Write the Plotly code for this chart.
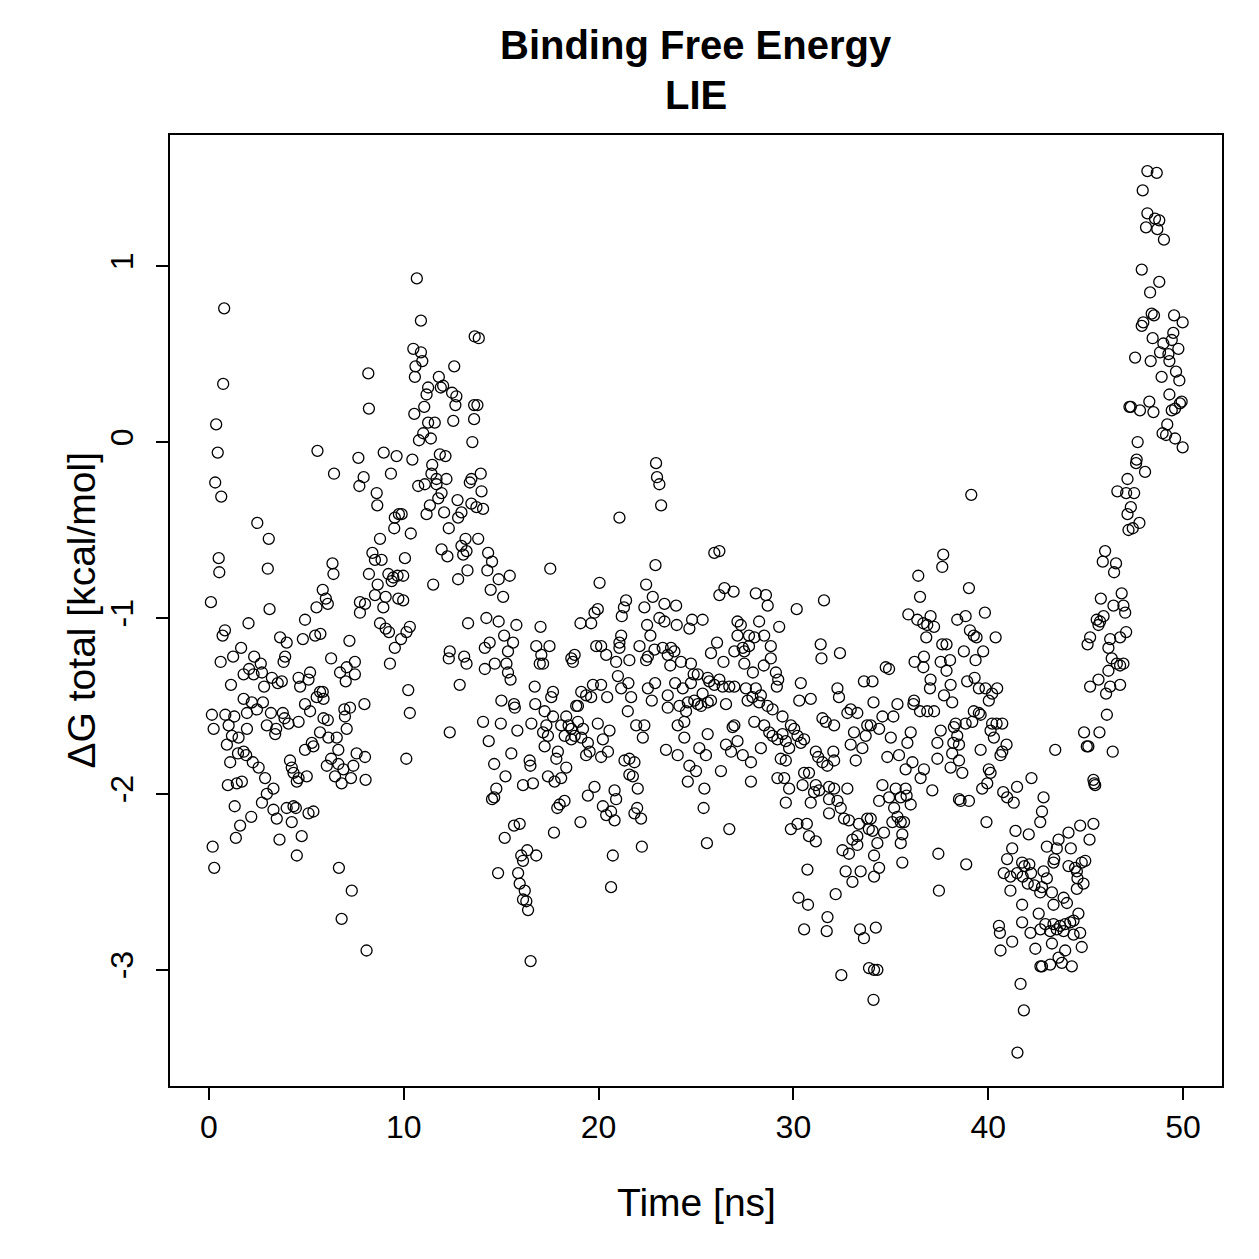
import plotly.graph_objects as go

# Values (time in ns, dG in kcal/mol), grouped by time window
seg_00_08 = [(0.10,-0.91),(0.15,-1.55),(0.24,-1.63),(0.19,-2.30),(0.27,-2.42),(0.37,0.10),(0.32,-0.23),(0.45,-0.06),(0.63,-0.31),(0.50,-0.66),(0.53,-0.74),(0.78,0.76),(0.73,0.33),(0.60,-1.25),(0.70,-1.10),(0.82,-1.07),(0.84,-1.55),(0.97,-1.95),(0.92,-1.72),(1.01,-1.61),(1.09,-1.82),(1.13,-1.38),(1.24,-1.22),(1.30,-1.56),(1.18,-1.67),(1.32,-2.07),(1.38,-2.25),(1.43,-1.94),(1.52,-1.68),(1.49,-1.77),(1.60,-2.18),(1.65,-1.17),(1.69,-1.93),(1.78,-1.32),(1.78,-1.46),(1.78,-1.76),(1.91,-1.78),(1.95,-1.54),(1.95,-1.63),(2.03,-1.03),(2.06,-1.29),(2.17,-2.13),(2.20,-1.48),(2.25,-1.82),(2.29,-1.32),(2.32,-1.22),(2.46,-1.52),(2.48,-0.46),(2.55,-1.85),(2.66,-1.26),(2.72,-1.31),(2.72,-2.05),(2.77,-1.48),(2.83,-1.39),(2.88,-1.91),(2.97,-1.61),(2.97,-2.00),(3.02,-0.72),(3.07,-0.55),(3.11,-0.95),(3.18,-1.54),(3.23,-1.34),(3.31,-1.97),(3.31,-2.09),(3.40,-1.66),(3.45,-1.63),(3.48,-2.14),(3.53,-1.37),(3.62,-2.26),(3.65,-1.11),(3.74,-1.36),(3.79,-1.54),(3.83,-1.25),(3.88,-1.57),(3.91,-1.22),(3.99,-1.14),(3.99,-2.08),(4.08,-1.60),(4.16,-1.81),(4.25,-1.85),(4.25,-2.16),(4.34,-1.88),(4.34,-2.07),(4.46,-2.08),(4.51,-1.93),(4.51,-2.35),(4.60,-1.34),(4.60,-1.59),(4.60,-1.91),(4.68,-1.39),(4.76,-2.24),(4.82,-1.12),(4.93,-1.01),(4.93,-1.49),(4.93,-1.75),(5.02,-1.90),(5.11,-1.35),(5.11,-2.11),(5.19,-1.31),(5.19,-1.53),(5.28,-1.71),(5.36,-1.73),(5.36,-2.10),(5.45,-1.10),(5.52,-0.94),(5.53,-1.45),(5.57,-0.05),(5.70,-1.42),(5.70,-1.65),(5.72,-1.09),(5.84,-0.84),(5.84,-1.42),(5.88,-1.46),(5.88,-1.57),(6.00,-0.89),(6.05,-1.84),(6.10,-0.92),(6.10,-1.58),(6.13,-1.68),(6.27,-1.23),(6.27,-1.80),(6.34,-0.69),(6.39,-0.75),(6.42,-0.18),(6.47,-1.90),(6.56,-1.68),(6.64,-1.75),(6.64,-1.83),(6.67,-2.42),(6.73,-1.31),(6.81,-1.94),(6.81,-2.71),(6.90,-1.86),(6.95,-1.52),(6.98,-1.56),(7.02,-1.36),(7.07,-1.28),(7.07,-1.63),(7.21,-1.13),(7.24,-1.51),(7.29,-1.91),(7.33,-2.55),(7.41,-1.84),(7.49,-1.25),(7.49,-1.32),(7.58,-1.77),(7.67,-0.09),(7.72,-0.25),(7.75,-0.91),(7.75,-0.97),(7.94,-0.20),(7.98,-1.49),(8.01,-0.92),(8.01,-1.79),(8.04,-1.92),(8.09,-2.89),(8.18,0.39),(8.21,0.19)]

seg_08_17 = [(10.67,0.93),(10.88,0.69),(13.64,0.60),(13.85,0.59),(10.49,0.53),(10.88,0.51),(10.95,0.46),(10.60,0.43),(10.57,0.37),(12.59,0.43),(11.80,0.37),(12.02,0.32),(11.90,0.31),(11.25,0.31),(11.17,0.27),(12.48,0.28),(12.70,0.26),(12.65,0.21),(11.05,0.20),(13.61,0.21),(13.78,0.21),(10.54,0.16),(11.25,0.11),(11.59,0.11),(12.54,0.12),(13.61,0.13),(11.00,0.05),(10.78,0.01),(11.39,0.02),(13.52,0.00),(8.97,-0.06),(9.63,-0.08),(10.44,-0.10),(9.34,-0.18),(8.61,-0.29),(8.64,-0.36),(11.85,-0.07),(12.14,-0.08),(11.46,-0.13),(11.42,-0.18),(11.68,-0.21),(12.19,-0.21),(10.74,-0.25),(11.08,-0.24),(11.68,-0.24),(11.94,-0.29),(11.77,-0.32),(11.34,-0.36),(11.17,-0.41),(12.07,-0.40),(12.76,-0.33),(12.96,-0.40),(12.79,-0.43),(12.31,-0.49),(13.47,-0.21),(13.39,-0.23),(13.95,-0.18),(13.99,-0.28),(13.47,-0.35),(13.73,-0.37),(14.07,-0.38),(9.54,-0.43),(9.75,-0.41),(9.89,-0.41),(9.51,-0.49),(10.36,-0.52),(8.78,-0.55),(13.82,-0.55),(11.94,-0.61),(12.24,-0.65),(12.96,-0.59),(13.17,-0.55),(13.05,-0.64),(13.22,-0.62),(14.33,-0.63),(14.53,-0.68),(13.27,-0.73),(12.79,-0.78),(14.29,-0.73),(15.44,-0.76),(14.87,-0.78),(14.46,-0.84),(15.10,-0.88),(8.39,-0.63),(8.52,-0.67),(8.86,-0.67),(8.21,-0.75),(10.06,-0.66),(9.21,-0.75),(9.46,-0.77),(9.68,-0.76),(9.97,-0.76),(9.38,-0.79),(8.66,-0.81),(8.52,-0.87),(9.07,-0.88),(8.95,-0.94),(9.72,-0.89),(9.97,-0.90),(11.51,-0.81),(8.78,-1.03),(9.07,-1.06),(9.24,-1.08),(10.31,-1.05),(10.14,-1.08),(9.86,-1.12),(9.54,-1.17),(9.29,-1.26),(10.23,-1.41),(13.30,-1.03),(14.24,-1.00),(14.87,-1.02),(15.78,-1.04),(15.15,-1.10),(15.61,-1.14),(15.35,-1.19),(14.41,-1.14),(14.16,-1.17),(14.67,-1.26),(15.27,-1.26),(15.35,-1.31),(15.48,-1.35),(14.16,-1.29),(12.36,-1.19),(12.31,-1.23),(13.10,-1.22),(13.22,-1.26),(12.87,-1.38),(16.72,-1.39),(10.31,-1.54),(12.36,-1.65),(10.13,-1.80),(14.07,-1.59),(14.98,-1.60),(15.83,-1.64),(14.36,-1.70),(15.01,-1.47),(15.66,-1.49),(15.70,-1.51),(16.75,-1.49),(16.55,-1.60),(15.52,-1.77),(14.64,-1.83),(15.22,-1.90),(16.12,-1.95),(16.46,-1.81),(16.50,-1.84),(16.63,-1.94),(14.75,-1.97),(14.64,-2.02),(14.53,-2.03),(15.66,-2.18),(15.95,-2.17),(15.18,-2.25),(16.03,-2.35),(16.34,-2.32),(16.80,-2.35),(16.12,-2.38),(15.87,-2.45),(14.84,-2.45),(15.95,-2.51),(16.21,-2.55),(16.12,-2.60),(16.29,-2.61),(16.38,-2.66),(16.51,-2.95)]

seg_17_26 = [(22.95,-0.12),(23.00,-0.20),(23.12,-0.24),(23.21,-0.36),(21.07,-0.43),(17.52,-0.72),(22.92,-0.70),(20.05,-0.80),(22.44,-0.81),(22.78,-0.88),(22.35,-0.94),(21.41,-0.90),(21.30,-0.94),(21.19,-0.99),(19.96,-0.95),(19.79,-0.97),(19.62,-1.03),(19.07,-1.03),(23.38,-0.92),(23.98,-0.93),(23.12,-1.00),(23.38,-1.02),(24.01,-1.04),(22.49,-1.04),(22.66,-1.10),(24.80,-1.01),(25.34,-1.01),(24.66,-1.06),(17.02,-1.05),(16.80,-1.16),(17.48,-1.16),(17.06,-1.21),(16.98,-1.26),(17.15,-1.26),(18.77,-1.21),(18.60,-1.23),(18.68,-1.25),(19.88,-1.16),(20.13,-1.16),(20.39,-1.21),(21.16,-1.10),(21.07,-1.14),(21.07,-1.17),(20.90,-1.25),(21.58,-1.24),(20.99,-1.33),(22.10,-1.16),(22.53,-1.22),(22.87,-1.18),(22.44,-1.24),(23.29,-1.17),(23.72,-1.17),(23.89,-1.19),(23.55,-1.21),(23.68,-1.27),(24.23,-1.25),(24.74,-1.26),(24.88,-1.32),(25.09,-1.32),(24.74,-1.37),(25.60,-1.34),(17.66,-1.42),(17.57,-1.45),(19.11,-1.42),(19.36,-1.44),(19.71,-1.38),(20.13,-1.38),(19.62,-1.45),(20.44,-1.45),(18.94,-1.50),(21.53,-1.37),(21.67,-1.45),(21.16,-1.40),(21.50,-1.53),(22.53,-1.40),(22.90,-1.37),(22.73,-1.47),(23.55,-1.44),(23.55,-1.51),(23.93,-1.37),(24.32,-1.40),(24.15,-1.50),(24.49,-1.53),(24.91,-1.47),(25.34,-1.43),(25.26,-1.50),(25.68,-1.36),(25.60,-1.48),(25.09,-1.49),(24.58,-1.48),(24.40,-1.59),(24.06,-1.61),(17.23,-1.53),(17.66,-1.56),(17.32,-1.61),(17.15,-1.65),(17.40,-1.67),(17.23,-1.73),(18.85,-1.50),(18.34,-1.56),(18.08,-1.61),(18.46,-1.61),(18.60,-1.63),(18.94,-1.59),(18.77,-1.67),(19.20,-1.63),(18.26,-1.67),(18.60,-1.69),(19.11,-1.68),(19.45,-1.71),(19.96,-1.60),(20.56,-1.64),(20.22,-1.69),(20.48,-1.76),(20.13,-1.79),(19.36,-1.78),(19.54,-1.76),(17.91,-1.76),(17.83,-1.80),(18.34,-1.85),(17.40,-1.90),(17.74,-1.93),(18.08,-1.91),(18.00,-2.06),(17.88,-2.08),(18.25,-2.04),(19.07,-2.16),(17.71,-2.22),(19.45,-2.01),(19.79,-1.96),(20.22,-2.07),(20.39,-2.12),(20.64,-2.10),(20.82,-2.15),(20.82,-1.98),(20.90,-2.03),(21.33,-1.81),(21.58,-1.80),(21.84,-1.82),(21.58,-1.89),(21.76,-1.90),(22.01,-1.97),(21.98,-2.08),(21.84,-2.11),(22.18,-2.14),(22.22,-2.30),(20.73,-2.35),(20.64,-2.53),(22.35,-1.61),(22.27,-1.68),(21.93,-1.61),(23.46,-1.75),(24.06,-1.78),(24.40,-1.68),(24.66,-1.84),(25.00,-1.87),(24.58,-1.93),(25.17,-1.74),(25.51,-1.78),(25.60,-1.66),(25.43,-1.97),(25.39,-2.08),(25.56,-2.28)]

seg_26_34 = [(25.94,-0.63),(26.20,-0.62),(26.20,-0.87),(26.46,-0.83),(26.93,-0.85),(28.07,-0.86),(28.59,-0.87),(28.68,-0.93),(29.27,-1.05),(30.17,-0.95),(31.57,-0.90),(27.13,-1.02),(27.30,-1.04),(28.24,-1.02),(27.13,-1.10),(27.72,-1.10),(28.50,-1.10),(26.08,-1.14),(25.77,-1.20),(26.97,-1.19),(27.40,-1.17),(27.48,-1.19),(28.84,-1.16),(28.84,-1.23),(26.41,-1.25),(27.48,-1.26),(27.92,-1.31),(28.48,-1.27),(27.72,-1.16),(28.00,-1.11),(29.10,-1.31),(29.22,-1.35),(29.15,-1.39),(25.94,-1.38),(26.20,-1.35),(26.37,-1.39),(26.71,-1.39),(26.97,-1.39),(25.77,-1.47),(26.54,-1.49),(27.56,-1.40),(28.07,-1.40),(28.33,-1.44),(27.65,-1.47),(27.90,-1.45),(28.24,-1.48),(28.67,-1.50),(28.93,-1.52),(29.44,-1.56),(30.38,-1.37),(30.30,-1.47),(30.89,-1.46),(31.40,-1.15),(31.44,-1.23),(32.39,-1.20),(32.26,-1.40),(32.34,-1.45),(33.62,-1.36),(32.77,-1.54),(32.94,-1.52),(33.28,-1.54),(31.49,-1.57),(31.66,-1.59),(32.09,-1.61),(33.79,-1.61),(33.71,-1.67),(33.11,-1.65),(32.94,-1.72),(33.54,-1.74),(33.20,-1.81),(26.28,-1.87),(26.71,-2.20),(26.54,-1.72),(26.80,-1.76),(27.13,-1.70),(26.97,-1.61),(26.88,-1.62),(27.40,-1.78),(27.82,-1.82),(27.82,-1.93),(28.33,-1.74),(27.99,-1.59),(28.50,-1.61),(28.76,-1.65),(28.93,-1.67),(29.18,-1.69),(29.44,-1.66),(29.61,-1.70),(29.87,-1.61),(30.04,-1.63),(29.78,-1.74),(30.21,-1.67),(30.38,-1.71),(30.55,-1.69),(29.35,-1.80),(29.61,-1.81),(29.18,-1.91),(29.53,-1.91),(29.78,-1.97),(29.61,-2.05),(31.15,-1.76),(31.27,-1.79),(31.49,-1.82),(31.74,-1.84),(32.05,-1.76),(32.09,-1.81),(30.55,-1.88),(30.80,-1.88),(30.47,-1.95),(31.15,-1.95),(31.06,-1.99),(31.32,-1.98),(30.89,-2.05),(31.83,-1.96),(32.09,-1.97),(32.26,-2.04),(31.83,-2.03),(32.43,-2.08),(32.77,-1.97),(31.83,-2.11),(32.60,-2.14),(32.85,-2.15),(29.87,-2.20),(30.21,-2.17),(30.69,-2.17),(30.80,-2.24),(31.15,-2.27),(33.36,-2.17),(33.79,-2.14),(33.87,-2.20),(33.28,-2.24),(33.03,-2.26),(32.52,-2.32),(32.85,-2.34),(33.28,-2.29),(32.68,-2.44),(33.45,-2.44),(33.03,-2.50),(30.72,-2.43),(30.26,-2.59),(30.75,-2.63),(32.17,-2.57),(31.75,-2.70),(30.55,-2.77),(31.71,-2.78),(33.42,-2.77),(33.62,-2.82),(33.88,-2.99),(32.46,-3.03)]

seg_34_43 = [(39.13,-0.30),(37.69,-0.64),(37.64,-0.71),(36.41,-0.76),(39.01,-0.83),(36.50,-0.88),(35.90,-0.98),(36.36,-1.01),(36.67,-1.03),(37.04,-0.99),(37.22,-1.05),(36.87,-1.04),(38.41,-1.01),(38.84,-0.99),(39.83,-0.97),(39.06,-1.07),(39.26,-1.10),(39.40,-1.11),(40.38,-1.11),(36.82,-1.11),(37.64,-1.15),(37.86,-1.15),(38.75,-1.19),(39.74,-1.19),(36.22,-1.25),(36.70,-1.22),(36.67,-1.28),(37.56,-1.25),(38.04,-1.24),(37.86,-1.30),(39.35,-1.24),(34.74,-1.28),(34.91,-1.29),(37.04,-1.35),(37.01,-1.40),(38.07,-1.38),(37.73,-1.44),(38.15,-1.48),(38.92,-1.36),(39.30,-1.34),(39.52,-1.40),(39.86,-1.40),(40.46,-1.40),(40.20,-1.43),(40.03,-1.47),(34.06,-1.36),(34.11,-1.48),(35.34,-1.49),(36.19,-1.47),(36.16,-1.49),(36.50,-1.53),(36.87,-1.53),(37.22,-1.53),(34.57,-1.56),(35.13,-1.56),(38.33,-1.60),(38.24,-1.62),(37.56,-1.64),(39.26,-1.53),(39.52,-1.54),(39.18,-1.59),(38.84,-1.60),(39.61,-1.55),(40.20,-1.60),(40.43,-1.60),(40.72,-1.60),(40.12,-1.64),(40.29,-1.68),(33.97,-1.61),(34.40,-1.63),(36.02,-1.65),(35.85,-1.71),(35.00,-1.68),(37.39,-1.71),(38.21,-1.71),(38.41,-1.67),(38.50,-1.72),(38.15,-1.77),(38.50,-1.81),(38.07,-1.85),(38.67,-1.88),(37.39,-1.80),(39.61,-1.75),(40.72,-1.76),(40.94,-1.72),(40.63,-1.78),(34.82,-1.79),(35.42,-1.78),(35.76,-1.86),(36.11,-1.82),(36.53,-1.91),(36.70,-1.86),(40.03,-1.86),(40.12,-1.88),(39.95,-1.94),(39.69,-1.97),(34.57,-1.95),(34.40,-2.04),(34.91,-2.02),(35.25,-1.97),(35.51,-2.02),(35.76,-1.97),(35.81,-2.01),(36.02,-2.06),(35.17,-2.08),(35.34,-2.13),(35.51,-2.16),(35.68,-2.16),(35.08,-2.16),(37.13,-1.98),(38.50,-2.03),(38.58,-2.04),(39.01,-2.04),(39.91,-2.16),(40.77,-1.99),(40.97,-2.02),(41.31,-2.05),(41.48,-1.96),(42.22,-1.91),(41.40,-2.21),(42.08,-2.23),(33.97,-2.14),(34.06,-2.21),(34.65,-2.22),(35.59,-2.23),(35.51,-2.28),(34.31,-2.28),(34.14,-2.35),(34.40,-2.42),(34.14,-2.47),(35.59,-2.39),(37.44,-2.34),(38.87,-2.40),(37.47,-2.55),(41.23,-2.31),(40.97,-2.37),(40.80,-2.45),(41.14,-2.47),(41.48,-2.45),(41.74,-2.39),(41.86,-2.41),(42.11,-2.40),(42.20,-2.45),(41.77,-2.47),(42.03,-2.51),(42.37,-2.52),(41.14,-2.55),(41.74,-2.63),(42.59,-2.68),(42.68,-2.77),(40.55,-2.75),(40.60,-2.79),(40.63,-2.89),(41.74,-2.73),(42.17,-2.79),(41.23,-2.84),(42.42,-2.88),(42.68,-2.98),(41.66,-3.08),(41.83,-3.23),(41.50,-3.47),(34.23,-2.76),(34.14,-3.00),(34.31,-3.00),(34.11,-3.17)]

seg_43_50 = [(48.17,1.54),(48.65,1.53),(47.93,1.43),(48.17,1.30),(48.56,1.27),(48.78,1.26),(48.10,1.22),(48.68,1.21),(49.02,1.15),(47.88,0.98),(48.78,0.91),(48.31,0.85),(48.39,0.73),(48.51,0.72),(47.96,0.68),(47.88,0.66),(49.54,0.72),(49.98,0.68),(48.44,0.59),(48.99,0.56),(49.50,0.62),(49.42,0.58),(49.76,0.53),(48.82,0.51),(49.25,0.50),(49.30,0.46),(47.54,0.48),(48.34,0.46),(48.90,0.37),(49.64,0.40),(49.81,0.35),(49.30,0.27),(49.93,0.23),(49.84,0.22),(49.59,0.19),(49.42,0.18),(48.27,0.23),(48.48,0.17),(47.79,0.18),(47.32,0.20),(47.25,0.20),(49.19,0.10),(48.95,0.05),(49.13,0.04),(49.59,0.02),(49.98,-0.03),(47.67,0.00),(47.62,-0.10),(47.59,-0.12),(48.05,-0.17),(47.15,-0.21),(46.63,-0.28),(47.08,-0.29),(47.49,-0.29),(47.32,-0.37),(47.15,-0.41),(47.76,-0.46),(47.42,-0.49),(47.20,-0.50),(46.00,-0.62),(45.88,-0.68),(46.56,-0.69),(46.46,-0.74),(46.85,-0.86),(45.78,-0.89),(46.43,-0.93),(46.94,-0.93),(47.03,-0.97),(45.57,-1.01),(45.74,-1.02),(45.92,-0.99),(45.66,-1.04),(45.23,-1.11),(45.10,-1.15),(47.08,-1.08),(46.77,-1.11),(46.26,-1.12),(46.17,-1.17),(46.34,-1.23),(46.60,-1.26),(46.94,-1.26),(46.77,-1.27),(46.17,-1.30),(45.66,-1.35),(45.23,-1.39),(46.26,-1.39),(46.77,-1.38),(46.05,-1.43),(46.09,-1.55),(45.71,-1.65),(44.92,-1.65),(45.06,-1.73),(45.14,-1.73),(46.39,-1.76),(43.44,-1.75),(45.40,-1.92),(45.44,-1.94),(45.49,-1.95),(42.84,-2.02),(42.76,-2.10),(42.67,-2.16),(45.40,-2.17),(45.20,-2.26),(44.72,-2.18),(44.12,-2.22),(43.61,-2.26),(43.01,-2.30),(44.24,-2.31),(43.52,-2.31),(44.98,-2.38),(44.80,-2.39),(44.12,-2.41),(44.46,-2.42),(43.35,-2.39),(43.39,-2.37),(42.84,-2.44),(43.01,-2.48),(42.76,-2.53),(44.55,-2.44),(44.58,-2.48),(44.89,-2.51),(44.55,-2.54),(43.27,-2.56),(43.87,-2.59),(44.04,-2.62),(42.67,-2.56),(43.35,-2.63),(44.63,-2.68),(44.38,-2.72),(44.21,-2.73),(43.95,-2.74),(43.69,-2.75),(43.35,-2.74),(42.93,-2.74),(44.72,-2.79),(44.38,-2.80),(43.87,-2.78),(43.52,-2.77),(43.18,-2.78),(43.27,-2.85),(44.80,-2.87),(43.95,-2.89),(43.61,-2.93),(43.78,-2.96),(44.29,-2.98),(43.18,-2.97),(42.76,-2.98)]

x_ticks = [0, 10, 20, 30, 40, 50]
y_ticks = [-3, -2, -1, 0, 1]
title_lines = ["Binding Free Energy", "LIE"]
x_label = "Time [ns]"
y_label = "ΔG total [kcal/mol]"

segments = [seg_00_08, seg_08_17, seg_17_26, seg_26_34, seg_34_43, seg_43_50]
time_ns = [p[0] for s in segments for p in s]
dg_total = [p[1] for s in segments for p in s]

FONT = "Liberation Sans, Arial, Helvetica, sans-serif"

fig = go.Figure()
fig.add_trace(go.Scatter(
    x=time_ns, y=dg_total, mode="markers",
    marker=dict(symbol="circle-open", size=11, color="black",
                line=dict(width=1.3, color="black")),
    showlegend=False, hoverinfo="x+y"))

axis_common = dict(
    showgrid=False, zeroline=False, showline=True, linecolor="black",
    linewidth=2, mirror=True, ticks="outside", ticklen=12, tickwidth=2,
    tickcolor="black", tickfont=dict(family=FONT, size=32, color="black"))

fig.update_xaxes(range=[-2, 52], tickvals=x_ticks,
                 ticktext=[str(v) for v in x_ticks], **axis_common)
fig.update_yaxes(range=[-3.66, 1.745], tickvals=y_ticks,
                 ticktext=[str(v) for v in y_ticks], tickangle=-90,
                 ticklabelstandoff=10, **axis_common)

annotations = [
    dict(text="<b>%s</b>" % title_lines[0], x=0.5, y=1.0946, xref="paper",
         yref="paper", showarrow=False, xanchor="center", yanchor="middle",
         font=dict(family=FONT, size=40, color="black")),
    dict(text="<b>%s</b>" % title_lines[1], x=0.5, y=1.0420, xref="paper",
         yref="paper", showarrow=False, xanchor="center", yanchor="middle",
         font=dict(family=FONT, size=40, color="black")),
    dict(text=x_label, x=0.5, y=-0.122, xref="paper",
         yref="paper", showarrow=False, xanchor="center", yanchor="middle",
         font=dict(family=FONT, size=39, color="black")),
    dict(text=y_label, x=-0.0837, y=0.5, xref="paper", yref="paper",
         showarrow=False, xanchor="center", yanchor="middle", textangle=-90,
         font=dict(family=FONT, size=39, color="black")),
]

fig.update_layout(
    width=1259, height=1259,
    margin=dict(l=170, r=37, t=135, b=173),
    paper_bgcolor="white", plot_bgcolor="white",
    annotations=annotations,
    font=dict(family=FONT, color="black"),
)

fig.write_html("out.html")
